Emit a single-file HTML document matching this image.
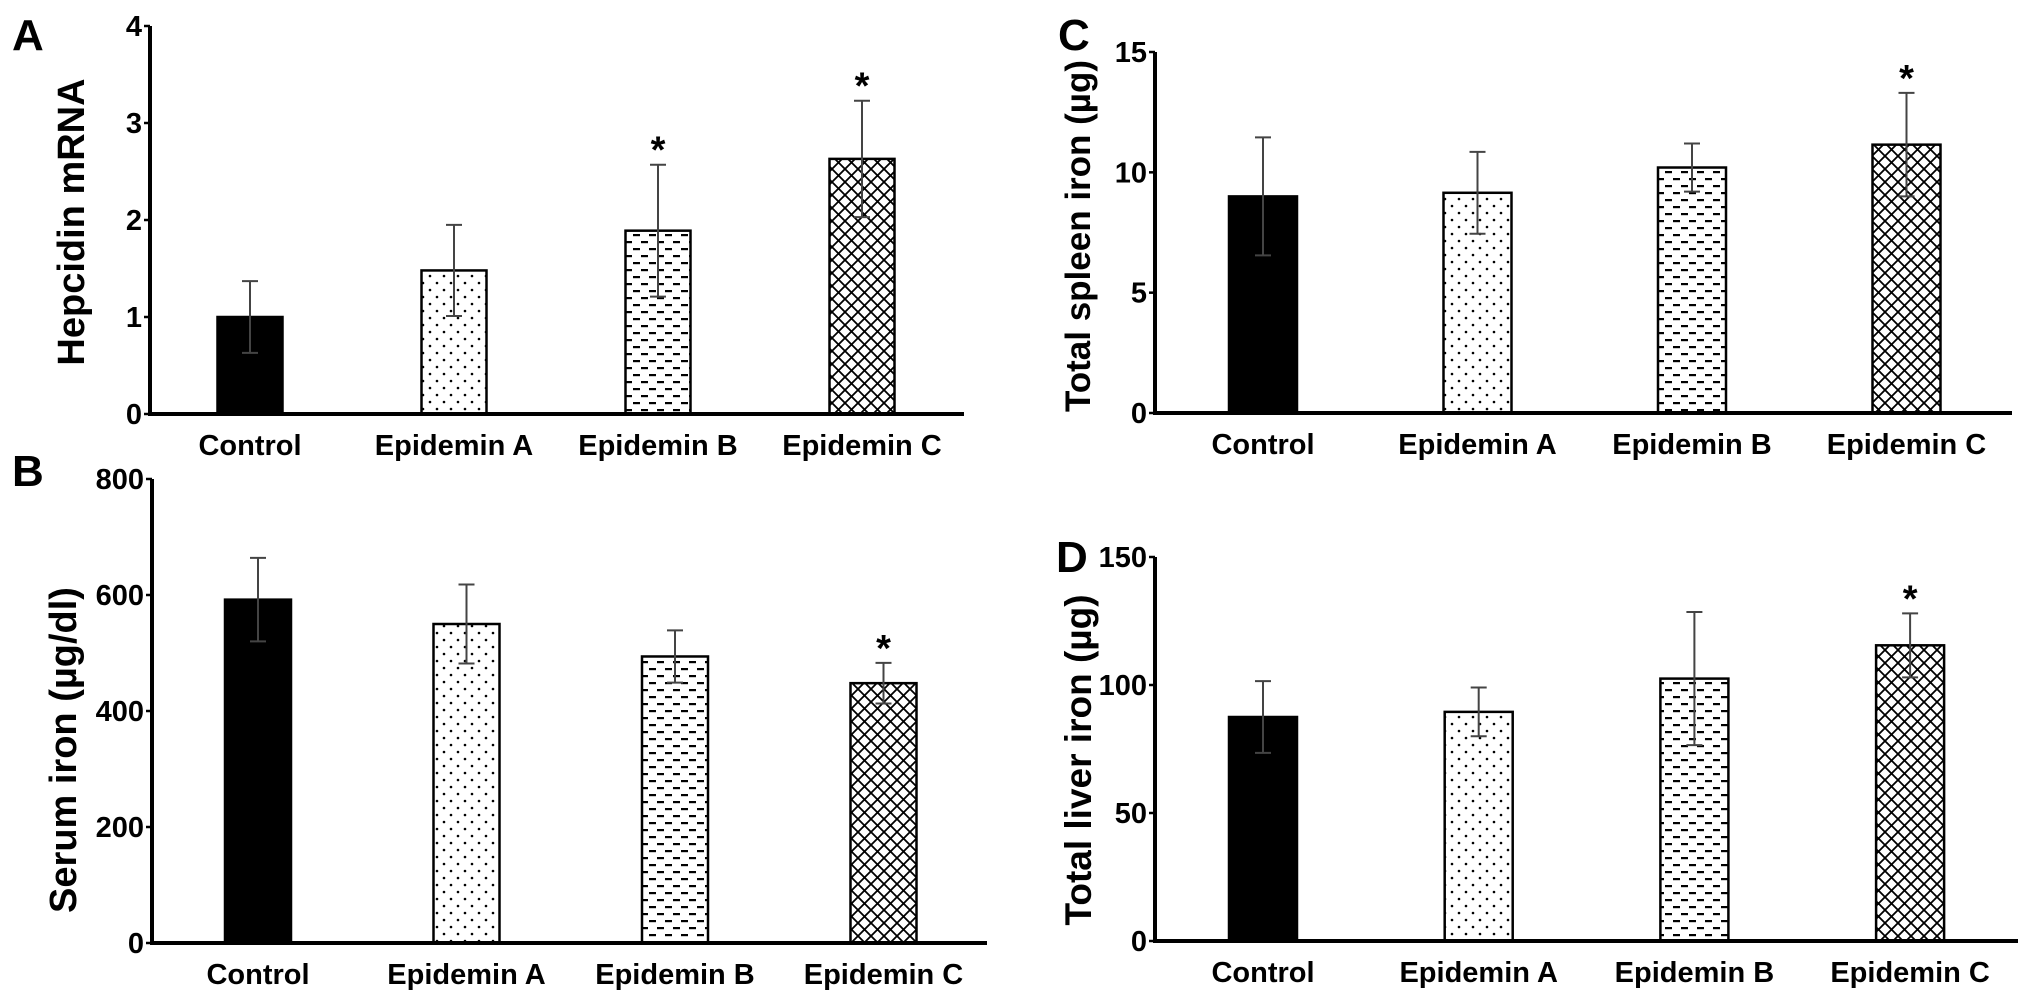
<!DOCTYPE html>
<html><head><meta charset="utf-8"><style>
html,body{margin:0;padding:0;background:#fff}
svg{display:block}
text{font-family:"Liberation Sans",Arial,sans-serif;font-weight:bold;fill:#000}
</style></head><body>
<svg id="fig" width="2031" height="994" viewBox="0 0 2031 994" xmlns="http://www.w3.org/2000/svg">
<defs>
<pattern id="pDots" width="14" height="14" patternUnits="userSpaceOnUse">
<rect width="14" height="14" fill="#fff"/>
<circle cx="3" cy="3" r="1.3" fill="#000"/><circle cx="10" cy="10" r="1.3" fill="#000"/>
</pattern>
<pattern id="pDash" width="16" height="14" patternUnits="userSpaceOnUse">
<rect width="16" height="14" fill="#fff"/>
<rect x="1" y="3" width="7" height="2.2" fill="#000"/><rect x="9" y="10" width="7" height="2.2" fill="#000"/>
</pattern>
<pattern id="pHatch" width="13" height="13" patternUnits="userSpaceOnUse">
<rect width="13" height="13" fill="#fff"/>
<path d="M0 0L13 13M13 0L0 13" stroke="#000" stroke-width="1.8"/>
</pattern>
</defs>
<g id="layer"></g>
</svg>
<script>
const categories = ["Control","Epidemin A","Epidemin B","Epidemin C"];
const hepcidinValues = [1.0, 1.48, 1.89, 2.63];
const hepcidinErrors = [0.37, 0.47, 0.68, 0.60];
const hepcidinStars = [false, false, true, true];
const hepcidinTicks = [0,1,2,3,4];
const serumValues = [592, 550, 494, 448];
const serumErrors = [72, 68, 45, 35];
const serumStars = [false, false, false, true];
const serumTicks = [0,200,400,600,800];
const spleenValues = [9.0, 9.15, 10.2, 11.15];
const spleenErrors = [2.45, 1.7, 1.0, 2.15];
const spleenStars = [false, false, false, true];
const spleenTicks = [0,5,10,15];
const liverValues = [87.5, 89.5, 102.5, 115.5];
const liverErrors = [14, 9.5, 26, 12.5];
const liverStars = [false, false, false, true];
const liverTicks = [0,50,100,150];

const NS = "http://www.w3.org/2000/svg";
const layer = document.getElementById("layer");
const fills = ["#000","url(#pDots)","url(#pDash)","url(#pHatch)"];
function mk(tag, attrs, parent){
  const e = document.createElementNS(NS, tag);
  for (const k in attrs) e.setAttribute(k, attrs[k]);
  (parent||layer).appendChild(e);
  return e;
}
function panel(cfg){
  const g = mk("g", {});
  
  
  const yMax = cfg.ticks[cfg.ticks.length-1];
  const y = v => cfg.base - (v / yMax) * (cfg.base - cfg.top);
  const x = i => cfg.centers[0] + i * cfg.step;
  const L = mk("text", {x: cfg.letterX, y: cfg.letterY, "font-size": 44}, g);
  L.textContent = cfg.letter;
  
  
  const t = mk("text", {x: 0, y: 0, "font-size": cfg.titleSize, "text-anchor": "middle", transform: `translate(${cfg.titleX},${cfg.titleY}) rotate(-90)`}, g);
  t.textContent = cfg.title;
  
  
  cfg.values.forEach((v, i) => {
    const cx = x(i), w = cfg.barW;
    const r = mk("rect", {x: cx - w/2, y: y(v), width: w, height: cfg.base - y(v), fill: fills[i], stroke: "#000", "stroke-width": 2.5}, g);
    
    
    const e = cfg.errors[i];
    const eb = mk("path", {d: `M${cx} ${y(v+e)}V${y(v-e)}M${cx-8} ${y(v+e)}H${cx+8}M${cx-8} ${y(v-e)}H${cx+8}`, stroke: "#444", "stroke-width": 2, fill: "none"}, g);
    
    
    if (cfg.stars[i]) {
      const s = mk("text", {x: cx, y: y(v+e) - 2, "font-size": 38, "text-anchor": "middle"}, g);
      s.textContent = "*";
      
      
    }
    const lb = mk("text", {x: cx, y: cfg.base + 41, "font-size": 29, "text-anchor": "middle"}, g);
    lb.textContent = categories[i];
    
    
  });
  const ax = mk("path", {d: `M${cfg.axisX} ${cfg.top}V${cfg.base}H${cfg.axisEnd}`, stroke: "#000", "stroke-width": 4, fill: "none"}, g);
  
  
  cfg.ticks.forEach(tv => {
    const tk = mk("line", {x1: cfg.axisX - 6, x2: cfg.axisX, y1: y(tv), y2: y(tv), stroke: "#000", "stroke-width": 2.5}, g);
    
    
    const tl = mk("text", {x: cfg.axisX - 8, y: y(tv) + 10, "font-size": 29, "text-anchor": "end"}, g);
    tl.textContent = tv;
    
    
  });
}
panel({name:"panel-a-hepcidin", letter:"A", letterX:12, letterY:50, title:"Hepcidin mRNA", titleSize:38, titleX:84, titleY:222,
  values:hepcidinValues, errors:hepcidinErrors, stars:hepcidinStars, ticks:hepcidinTicks,
  axisX:150, axisEnd:964, base:414, top:26, centers:[250], step:204, barW:65});
panel({name:"panel-b-serum-iron", letter:"B", letterX:12, letterY:486, title:"Serum iron (µg/dl)", titleSize:38, titleX:76, titleY:750,
  values:serumValues, errors:serumErrors, stars:serumStars, ticks:serumTicks,
  axisX:152, axisEnd:987, base:943, top:479, centers:[258], step:208.5, barW:66});
panel({name:"panel-c-spleen-iron", letter:"C", letterX:1058, letterY:50, title:"Total spleen iron (µg)", titleSize:35, titleX:1090, titleY:236,
  values:spleenValues, errors:spleenErrors, stars:spleenStars, ticks:spleenTicks,
  axisX:1155, axisEnd:2012, base:413, top:52, centers:[1263], step:214.5, barW:68});
panel({name:"panel-d-liver-iron", letter:"D", letterX:1056, letterY:572, title:"Total liver iron (µg)", titleSize:37, titleX:1091, titleY:760,
  values:liverValues, errors:liverErrors, stars:liverStars, ticks:liverTicks,
  axisX:1155, axisEnd:2018, base:941, top:557, centers:[1263], step:215.7, barW:68});
</script>
</body></html>
